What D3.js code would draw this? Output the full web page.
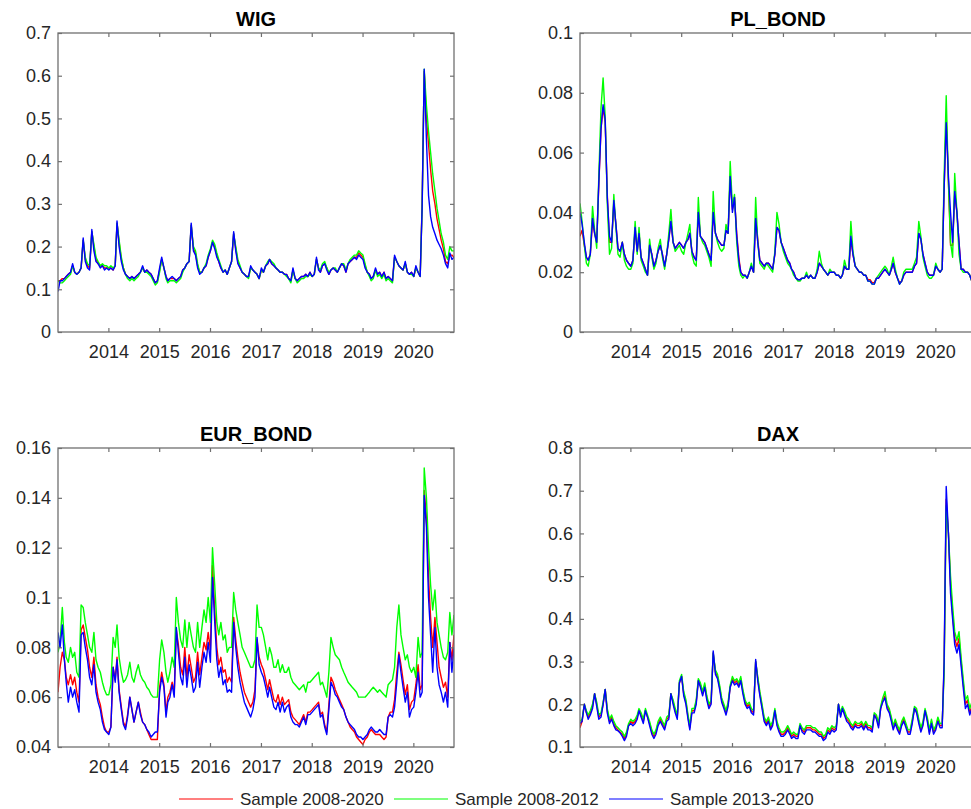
<!DOCTYPE html>
<html>
<head>
<meta charset="utf-8">
<script src="https://cdn.jsdelivr.net/npm/d3@7"></script>
<style>
  body { margin: 0; background: #fff; }
  svg { display: block; font-family: "Liberation Sans", Arial, sans-serif; }
  .axis text { fill: #262626; font-size: 18px; font-family: "Liberation Sans", Arial, sans-serif; }
  .axis line { stroke: #707070; stroke-width: 1.2; }
  .title { font-size: 20px; font-weight: bold; fill: #000; }
  .legend text { font-size: 17px; fill: #262626; }
</style>
</head>
<body>
<svg></svg>
<script>
const width = 971, height = 809;

// two observations per month, Jan 2013 - Oct 2020
const dates = d3.timeMonth.range(new Date(2013, 0, 1), new Date(2020, 10, 1))
  .flatMap(m => [d3.timeDay.offset(m, 3), d3.timeDay.offset(m, 18)]);

const seriesNames = ['Sample 2008-2020', 'Sample 2008-2012', 'Sample 2013-2020'];
const seriesColors = ['#ff0000', '#00ff00', '#0000ff'];
const xTicks = [2014, 2015, 2016, 2017, 2018, 2019, 2020];

// ---- WIG ----
const wigFull = [
  0.12,0.12,0.125,0.125,0.13,0.135,0.14,0.155,0.14,0.135,0.14,0.15, 0.215,0.17,0.155,0.15,0.235,0.2,0.17,0.16,0.155,0.155,0.15,0.15,
  0.15,0.15,0.145,0.155,0.255,0.21,0.17,0.15,0.135,0.13,0.125,0.13, 0.125,0.13,0.135,0.14,0.15,0.14,0.145,0.14,0.135,0.125,0.115,0.12,
  0.145,0.17,0.15,0.13,0.12,0.125,0.125,0.125,0.12,0.125,0.13,0.145, 0.15,0.16,0.165,0.25,0.195,0.185,0.155,0.14,0.14,0.15,0.155,0.175,
  0.19,0.21,0.2,0.18,0.165,0.15,0.14,0.145,0.135,0.15,0.165,0.23, 0.195,0.165,0.15,0.14,0.135,0.13,0.13,0.15,0.145,0.14,0.135,0.125,
  0.145,0.14,0.155,0.16,0.17,0.16,0.155,0.15,0.145,0.14,0.14,0.135, 0.135,0.125,0.12,0.145,0.125,0.12,0.125,0.13,0.13,0.135,0.13,0.14,
  0.13,0.135,0.17,0.15,0.14,0.155,0.16,0.15,0.135,0.145,0.15,0.145, 0.14,0.15,0.16,0.155,0.14,0.16,0.165,0.17,0.175,0.175,0.185,0.18,
  0.175,0.155,0.14,0.135,0.125,0.13,0.145,0.135,0.14,0.13,0.14,0.125, 0.13,0.125,0.12,0.175,0.165,0.155,0.15,0.145,0.16,0.14,0.135,0.14,
  0.13,0.15,0.14,0.13,0.3,0.61,0.5,0.44,0.38,0.33, 0.3,0.265,0.24,0.215,0.195,0.165,0.16,0.18,0.18,0.175
];
const wigEarly = [
  0.12,0.115,0.115,0.12,0.125,0.13,0.135,0.155,0.14,0.135,0.14,0.15, 0.215,0.175,0.16,0.155,0.235,0.205,0.175,0.165,0.155,0.16,0.155,0.155,
  0.15,0.155,0.15,0.155,0.255,0.215,0.175,0.15,0.135,0.125,0.12,0.125, 0.12,0.125,0.13,0.14,0.15,0.14,0.14,0.135,0.13,0.12,0.11,0.115,
  0.14,0.17,0.15,0.125,0.115,0.12,0.12,0.12,0.115,0.12,0.125,0.14, 0.15,0.16,0.165,0.25,0.2,0.19,0.16,0.14,0.14,0.15,0.16,0.18,
  0.195,0.215,0.205,0.185,0.17,0.155,0.14,0.145,0.135,0.15,0.165,0.23, 0.2,0.17,0.155,0.14,0.135,0.13,0.125,0.15,0.145,0.14,0.135,0.125,
  0.145,0.14,0.155,0.165,0.17,0.165,0.16,0.15,0.145,0.14,0.14,0.135, 0.13,0.125,0.115,0.145,0.125,0.115,0.12,0.125,0.125,0.13,0.13,0.135,
  0.13,0.135,0.17,0.15,0.145,0.16,0.165,0.15,0.14,0.145,0.15,0.15, 0.14,0.15,0.16,0.16,0.145,0.16,0.17,0.175,0.18,0.18,0.19,0.185,
  0.18,0.16,0.14,0.13,0.12,0.125,0.145,0.13,0.135,0.125,0.135,0.12, 0.125,0.12,0.115,0.175,0.165,0.155,0.15,0.145,0.16,0.14,0.135,0.135,
  0.13,0.15,0.14,0.13,0.29,0.615,0.53,0.47,0.42,0.37, 0.33,0.29,0.26,0.23,0.21,0.18,0.17,0.2,0.19,0.19
];
const wigLate = [
  0.095,0.12,0.12,0.125,0.13,0.135,0.14,0.16,0.14,0.135,0.14,0.15, 0.22,0.165,0.15,0.145,0.24,0.19,0.165,0.16,0.15,0.155,0.145,0.15,
  0.145,0.15,0.145,0.155,0.26,0.2,0.165,0.145,0.135,0.13,0.125,0.13, 0.125,0.13,0.135,0.14,0.155,0.14,0.145,0.14,0.135,0.125,0.115,0.12,
  0.15,0.175,0.15,0.13,0.12,0.125,0.13,0.125,0.12,0.125,0.13,0.145, 0.15,0.16,0.165,0.255,0.19,0.18,0.15,0.135,0.14,0.15,0.155,0.175,
  0.19,0.21,0.195,0.175,0.165,0.15,0.14,0.145,0.135,0.15,0.165,0.235, 0.19,0.16,0.15,0.14,0.135,0.13,0.13,0.155,0.145,0.14,0.135,0.125,
  0.15,0.14,0.155,0.16,0.17,0.16,0.155,0.15,0.145,0.14,0.14,0.135, 0.135,0.125,0.12,0.15,0.125,0.12,0.125,0.13,0.13,0.135,0.13,0.14,
  0.13,0.135,0.175,0.145,0.14,0.155,0.16,0.145,0.135,0.145,0.15,0.145, 0.14,0.15,0.16,0.155,0.14,0.16,0.165,0.17,0.175,0.17,0.18,0.175,
  0.17,0.15,0.14,0.135,0.125,0.13,0.15,0.135,0.14,0.13,0.14,0.125, 0.13,0.125,0.12,0.18,0.165,0.155,0.15,0.145,0.165,0.14,0.135,0.14,
  0.13,0.155,0.14,0.13,0.29,0.615,0.45,0.32,0.27,0.245, 0.23,0.215,0.205,0.195,0.18,0.16,0.15,0.185,0.17,0.175
];

// ---- PL_BOND ----
const plFull = [
  0.032,0.034,0.029,0.025,0.024,0.026,0.037,0.033,0.03,0.049,0.068,0.075, 0.07,0.046,0.03,0.03,0.043,0.036,0.028,0.027,0.03,0.026,0.024,0.023,
  0.022,0.024,0.034,0.027,0.033,0.025,0.023,0.021,0.019,0.029,0.026,0.022, 0.024,0.027,0.029,0.026,0.022,0.026,0.031,0.037,0.03,0.028,0.029,0.03,
  0.029,0.028,0.03,0.031,0.033,0.027,0.025,0.024,0.04,0.032,0.031,0.03, 0.028,0.026,0.024,0.04,0.033,0.031,0.03,0.029,0.029,0.034,0.033,0.052,
  0.041,0.045,0.033,0.025,0.02,0.019,0.019,0.018,0.02,0.022,0.02,0.038, 0.031,0.024,0.023,0.022,0.023,0.023,0.022,0.021,0.026,0.035,0.034,0.03,
  0.028,0.026,0.024,0.023,0.021,0.02,0.018,0.0175,0.0175,0.018,0.018,0.019, 0.018,0.019,0.018,0.018,0.02,0.023,0.022,0.021,0.02,0.019,0.02,0.02,
  0.02,0.019,0.019,0.018,0.019,0.022,0.021,0.021,0.031,0.026,0.022,0.021, 0.02,0.02,0.019,0.019,0.0175,0.0175,0.0165,0.0165,0.018,0.018,0.019,0.02,
  0.021,0.02,0.019,0.021,0.023,0.02,0.018,0.0165,0.017,0.019,0.02,0.02, 0.02,0.02,0.022,0.023,0.033,0.031,0.026,0.023,0.02,0.019,0.019,0.019,
  0.022,0.021,0.02,0.021,0.048,0.072,0.05,0.029,0.029,0.046, 0.04,0.03,0.021,0.021,0.02,0.02,0.019,0.017,0.018,0.016
];
const plEarly = [
  0.043,0.037,0.029,0.023,0.022,0.026,0.042,0.034,0.028,0.052,0.075,0.085, 0.072,0.043,0.026,0.028,0.046,0.035,0.026,0.025,0.03,0.024,0.022,0.021,
  0.021,0.023,0.037,0.026,0.035,0.024,0.022,0.02,0.019,0.031,0.025,0.021, 0.023,0.028,0.031,0.025,0.021,0.026,0.033,0.041,0.03,0.027,0.028,0.029,
  0.027,0.026,0.03,0.033,0.036,0.026,0.023,0.022,0.045,0.032,0.03,0.029, 0.027,0.025,0.022,0.047,0.033,0.03,0.028,0.027,0.028,0.036,0.033,0.057,
  0.042,0.046,0.03,0.022,0.019,0.018,0.019,0.018,0.02,0.023,0.02,0.045, 0.03,0.023,0.022,0.021,0.023,0.022,0.021,0.02,0.027,0.04,0.036,0.03,
  0.027,0.025,0.023,0.022,0.021,0.019,0.018,0.017,0.017,0.018,0.018,0.02, 0.018,0.019,0.018,0.018,0.021,0.027,0.023,0.021,0.02,0.019,0.021,0.02,
  0.02,0.019,0.019,0.018,0.019,0.024,0.021,0.021,0.037,0.027,0.022,0.021, 0.02,0.02,0.019,0.019,0.017,0.017,0.016,0.016,0.018,0.019,0.02,0.021,
  0.022,0.021,0.019,0.022,0.025,0.021,0.018,0.016,0.017,0.02,0.021,0.021, 0.021,0.021,0.023,0.025,0.037,0.032,0.025,0.022,0.019,0.018,0.018,0.019,
  0.023,0.021,0.02,0.021,0.052,0.079,0.05,0.03,0.025,0.053, 0.04,0.026,0.021,0.02,0.02,0.02,0.019,0.017,0.018,0.017
];
const plLate = [
  0.04,0.036,0.03,0.025,0.024,0.026,0.038,0.033,0.03,0.05,0.068,0.076, 0.071,0.045,0.032,0.03,0.044,0.036,0.028,0.027,0.03,0.026,0.024,0.023,
  0.022,0.024,0.035,0.027,0.033,0.025,0.023,0.021,0.019,0.029,0.026,0.022, 0.024,0.027,0.029,0.026,0.022,0.026,0.031,0.037,0.03,0.028,0.029,0.03,
  0.029,0.028,0.03,0.031,0.033,0.027,0.025,0.024,0.04,0.032,0.031,0.03, 0.028,0.026,0.024,0.04,0.033,0.031,0.03,0.029,0.029,0.034,0.033,0.052,
  0.04,0.045,0.032,0.024,0.02,0.019,0.019,0.018,0.02,0.022,0.02,0.038, 0.03,0.024,0.023,0.022,0.023,0.023,0.022,0.021,0.026,0.035,0.034,0.03,
  0.028,0.026,0.024,0.023,0.021,0.02,0.018,0.0175,0.0175,0.018,0.018,0.019, 0.018,0.019,0.018,0.018,0.02,0.023,0.022,0.021,0.02,0.019,0.02,0.02,
  0.02,0.019,0.019,0.018,0.019,0.022,0.021,0.021,0.032,0.026,0.022,0.021, 0.02,0.02,0.019,0.019,0.017,0.017,0.016,0.016,0.018,0.018,0.019,0.02,
  0.021,0.02,0.019,0.021,0.023,0.02,0.018,0.016,0.017,0.019,0.02,0.02, 0.02,0.02,0.022,0.023,0.033,0.031,0.026,0.023,0.02,0.019,0.019,0.019,
  0.022,0.021,0.02,0.021,0.048,0.07,0.052,0.04,0.03,0.047, 0.04,0.03,0.021,0.021,0.02,0.02,0.019,0.017,0.018,0.016
];

// ---- EUR_BOND ----
const eurFull = [
  0.062,0.072,0.078,0.075,0.068,0.065,0.069,0.065,0.068,0.062,0.058,0.087, 0.089,0.084,0.079,0.072,0.068,0.076,0.065,0.06,0.057,0.052,0.048,0.046,
  0.046,0.048,0.072,0.067,0.076,0.063,0.056,0.05,0.048,0.053,0.06,0.055, 0.05,0.054,0.058,0.054,0.05,0.049,0.047,0.045,0.043,0.043,0.043,0.043,
  0.064,0.07,0.065,0.054,0.06,0.062,0.066,0.062,0.087,0.081,0.072,0.069, 0.08,0.068,0.077,0.072,0.066,0.068,0.078,0.069,0.076,0.082,0.079,0.086,
  0.079,0.113,0.095,0.08,0.073,0.076,0.07,0.071,0.066,0.068,0.066,0.092, 0.083,0.076,0.07,0.066,0.062,0.06,0.058,0.056,0.058,0.063,0.083,0.076,
  0.073,0.071,0.067,0.063,0.067,0.063,0.059,0.058,0.061,0.057,0.06,0.057, 0.058,0.059,0.054,0.052,0.051,0.05,0.049,0.051,0.053,0.05,0.054,0.054,
  0.055,0.056,0.057,0.058,0.053,0.054,0.049,0.046,0.057,0.068,0.066,0.063, 0.061,0.059,0.057,0.055,0.052,0.05,0.048,0.047,0.046,0.044,0.043,0.042,
  0.041,0.043,0.044,0.046,0.047,0.046,0.045,0.045,0.045,0.044,0.043,0.044, 0.052,0.054,0.054,0.059,0.07,0.078,0.073,0.067,0.061,0.065,0.055,0.058,
  0.059,0.065,0.073,0.063,0.065,0.143,0.132,0.108,0.092,0.08, 0.092,0.082,0.072,0.068,0.064,0.066,0.06,0.082,0.075,0.085
];
const eurEarly = [
  0.078,0.082,0.096,0.082,0.076,0.074,0.08,0.076,0.078,0.07,0.068,0.097, 0.096,0.09,0.085,0.08,0.078,0.086,0.075,0.072,0.07,0.066,0.063,0.061,
  0.061,0.065,0.084,0.08,0.089,0.076,0.07,0.066,0.067,0.069,0.074,0.068, 0.066,0.07,0.073,0.069,0.067,0.066,0.064,0.063,0.061,0.06,0.06,0.06,
  0.075,0.083,0.078,0.07,0.066,0.07,0.076,0.072,0.1,0.09,0.083,0.08, 0.091,0.08,0.09,0.085,0.08,0.078,0.09,0.08,0.088,0.095,0.09,0.1,
  0.09,0.12,0.105,0.09,0.085,0.09,0.083,0.085,0.078,0.08,0.08,0.102, 0.095,0.09,0.085,0.08,0.078,0.076,0.074,0.072,0.072,0.075,0.097,0.088,
  0.088,0.085,0.08,0.075,0.08,0.077,0.072,0.072,0.075,0.07,0.073,0.07, 0.07,0.072,0.068,0.066,0.065,0.064,0.063,0.064,0.065,0.062,0.066,0.066,
  0.067,0.068,0.069,0.07,0.065,0.066,0.063,0.06,0.07,0.084,0.08,0.077, 0.076,0.075,0.072,0.07,0.068,0.066,0.065,0.064,0.063,0.062,0.06,0.06,
  0.06,0.06,0.061,0.062,0.063,0.064,0.063,0.062,0.063,0.062,0.061,0.06, 0.065,0.066,0.067,0.072,0.088,0.097,0.085,0.08,0.075,0.077,0.072,0.07,
  0.072,0.068,0.084,0.076,0.078,0.152,0.14,0.12,0.105,0.095, 0.103,0.09,0.085,0.08,0.076,0.075,0.078,0.094,0.085,0.093
];
const eurLate = [
  0.086,0.08,0.089,0.075,0.066,0.058,0.064,0.06,0.063,0.058,0.054,0.085, 0.086,0.08,0.075,0.068,0.065,0.073,0.062,0.058,0.055,0.05,0.047,0.046,
  0.045,0.048,0.072,0.066,0.075,0.062,0.055,0.049,0.047,0.052,0.06,0.055, 0.05,0.054,0.058,0.053,0.05,0.049,0.047,0.046,0.044,0.045,0.046,0.046,
  0.062,0.068,0.064,0.052,0.058,0.06,0.065,0.06,0.088,0.078,0.068,0.065, 0.076,0.064,0.073,0.068,0.062,0.064,0.074,0.064,0.072,0.078,0.074,0.082,
  0.074,0.108,0.09,0.075,0.068,0.072,0.065,0.067,0.062,0.063,0.062,0.09, 0.08,0.072,0.066,0.062,0.058,0.056,0.054,0.052,0.055,0.06,0.084,0.073,
  0.07,0.068,0.064,0.06,0.064,0.06,0.056,0.055,0.058,0.054,0.058,0.054, 0.056,0.057,0.052,0.05,0.049,0.049,0.048,0.05,0.052,0.049,0.053,0.053,
  0.054,0.055,0.056,0.057,0.052,0.053,0.048,0.045,0.055,0.066,0.064,0.061, 0.06,0.058,0.056,0.055,0.052,0.05,0.049,0.048,0.047,0.045,0.044,0.044,
  0.043,0.044,0.045,0.047,0.048,0.047,0.046,0.046,0.047,0.046,0.045,0.045, 0.052,0.053,0.052,0.056,0.066,0.077,0.07,0.064,0.058,0.062,0.052,0.055,
  0.056,0.062,0.07,0.06,0.062,0.141,0.128,0.1,0.085,0.07, 0.088,0.072,0.065,0.062,0.058,0.062,0.056,0.082,0.07,0.08
];

// ---- DAX ----
const daxFull = [
  0.145,0.16,0.2,0.18,0.17,0.18,0.195,0.225,0.2,0.17,0.175,0.2, 0.235,0.185,0.16,0.17,0.155,0.145,0.14,0.135,0.13,0.12,0.13,0.15,
  0.16,0.155,0.16,0.17,0.185,0.175,0.16,0.185,0.17,0.155,0.135,0.125, 0.135,0.155,0.165,0.155,0.145,0.165,0.17,0.225,0.205,0.185,0.17,0.25,
  0.265,0.225,0.205,0.17,0.145,0.185,0.185,0.205,0.255,0.245,0.225,0.245, 0.215,0.195,0.205,0.32,0.275,0.265,0.24,0.21,0.195,0.18,0.2,0.24,
  0.26,0.25,0.255,0.245,0.26,0.23,0.205,0.195,0.2,0.185,0.18,0.3, 0.26,0.225,0.195,0.165,0.155,0.165,0.145,0.155,0.185,0.155,0.14,0.13,
  0.13,0.135,0.145,0.135,0.125,0.13,0.125,0.125,0.15,0.14,0.135,0.145, 0.145,0.145,0.14,0.14,0.135,0.13,0.13,0.12,0.125,0.14,0.135,0.145,
  0.14,0.145,0.2,0.175,0.19,0.18,0.165,0.16,0.15,0.145,0.155,0.15, 0.15,0.155,0.145,0.155,0.145,0.145,0.14,0.175,0.17,0.15,0.19,0.21,
  0.22,0.195,0.185,0.165,0.145,0.16,0.145,0.135,0.155,0.165,0.15,0.135, 0.135,0.16,0.19,0.185,0.16,0.14,0.155,0.185,0.165,0.135,0.16,0.135,
  0.145,0.165,0.15,0.15,0.29,0.68,0.6,0.48,0.41,0.355, 0.335,0.355,0.3,0.25,0.2,0.21,0.18,0.195,0.19,0.205
];
const daxEarly = [
  0.16,0.165,0.2,0.185,0.175,0.185,0.2,0.225,0.205,0.175,0.18,0.205, 0.235,0.19,0.165,0.175,0.16,0.15,0.145,0.14,0.135,0.125,0.135,0.155,
  0.165,0.16,0.165,0.175,0.19,0.18,0.165,0.19,0.175,0.16,0.14,0.13, 0.14,0.16,0.17,0.16,0.15,0.17,0.175,0.225,0.21,0.19,0.175,0.255,
  0.27,0.23,0.21,0.175,0.15,0.19,0.19,0.21,0.26,0.25,0.23,0.25, 0.22,0.2,0.21,0.32,0.28,0.27,0.245,0.215,0.2,0.185,0.205,0.245,
  0.265,0.255,0.26,0.25,0.265,0.235,0.21,0.2,0.205,0.19,0.185,0.3, 0.265,0.23,0.2,0.17,0.16,0.17,0.15,0.16,0.19,0.16,0.145,0.135,
  0.135,0.14,0.15,0.14,0.13,0.135,0.13,0.13,0.155,0.145,0.14,0.15, 0.15,0.15,0.145,0.145,0.14,0.135,0.135,0.125,0.13,0.145,0.14,0.15,
  0.145,0.15,0.2,0.18,0.195,0.185,0.17,0.165,0.155,0.15,0.16,0.155, 0.155,0.16,0.15,0.16,0.15,0.15,0.145,0.18,0.175,0.155,0.195,0.215,
  0.23,0.2,0.19,0.17,0.15,0.165,0.15,0.14,0.16,0.17,0.155,0.14, 0.14,0.165,0.195,0.19,0.165,0.145,0.16,0.19,0.17,0.14,0.165,0.14,
  0.15,0.17,0.155,0.155,0.27,0.665,0.6,0.5,0.43,0.37, 0.35,0.37,0.31,0.26,0.21,0.22,0.19,0.205,0.2,0.215
];
const daxLate = [
  0.155,0.16,0.2,0.18,0.165,0.175,0.19,0.225,0.195,0.165,0.17,0.2, 0.235,0.18,0.155,0.165,0.15,0.14,0.138,0.133,0.125,0.115,0.125,0.15,
  0.155,0.15,0.155,0.165,0.185,0.17,0.155,0.185,0.17,0.15,0.13,0.12, 0.13,0.15,0.16,0.15,0.14,0.16,0.165,0.225,0.2,0.18,0.165,0.25,
  0.265,0.22,0.2,0.165,0.14,0.18,0.18,0.2,0.255,0.24,0.22,0.24, 0.21,0.19,0.2,0.325,0.27,0.26,0.235,0.205,0.19,0.175,0.195,0.24,
  0.255,0.245,0.25,0.24,0.255,0.225,0.2,0.19,0.195,0.18,0.175,0.305, 0.255,0.22,0.19,0.16,0.15,0.16,0.14,0.15,0.185,0.15,0.135,0.125,
  0.125,0.13,0.14,0.13,0.12,0.125,0.12,0.12,0.15,0.135,0.13,0.14, 0.14,0.14,0.135,0.135,0.13,0.125,0.125,0.115,0.12,0.135,0.13,0.14,
  0.135,0.14,0.2,0.17,0.19,0.175,0.16,0.155,0.145,0.14,0.15,0.145, 0.145,0.15,0.14,0.15,0.14,0.14,0.135,0.175,0.165,0.145,0.19,0.205,
  0.215,0.19,0.18,0.16,0.14,0.155,0.14,0.13,0.15,0.16,0.145,0.13, 0.13,0.155,0.19,0.18,0.155,0.135,0.15,0.185,0.16,0.13,0.155,0.13,
  0.14,0.16,0.145,0.145,0.3,0.71,0.6,0.46,0.4,0.34, 0.32,0.34,0.29,0.24,0.19,0.2,0.175,0.19,0.185,0.2
];

const wigTicks = [0, 0.1, 0.2, 0.3, 0.4, 0.5, 0.6, 0.7];
const plTicks = [0, 0.02, 0.04, 0.06, 0.08, 0.1];
const eurTicks = [0.04, 0.06, 0.08, 0.1, 0.12, 0.14, 0.16];
const daxTicks = [0.1, 0.2, 0.3, 0.4, 0.5, 0.6, 0.7, 0.8];

const panels = [
  { title: 'WIG', series: [wigFull, wigEarly, wigLate], yDomain: [0, 0.7], yTicks: wigTicks, left: 58, top: 33 },
  { title: 'PL_BOND', series: [plFull, plEarly, plLate], yDomain: [0, 0.1], yTicks: plTicks, left: 580, top: 33 },
  { title: 'EUR_BOND', series: [eurFull, eurEarly, eurLate], yDomain: [0.04, 0.16], yTicks: eurTicks, left: 58, top: 448 },
  { title: 'DAX', series: [daxFull, daxEarly, daxLate], yDomain: [0.1, 0.8], yTicks: daxTicks, left: 580, top: 448 }
];

const plotW = 396, plotH = 299;
const svg = d3.select('svg').attr('width', width).attr('height', height);
const xTickDates = xTicks.map(yr => new Date(yr, 0, 1));

panels.forEach((p, pi) => {
  const g = svg.append('g').attr('transform', `translate(${p.left},${p.top})`);
  const x = d3.scaleTime().domain(d3.extent(dates)).range([0, plotW]);
  const y = d3.scaleLinear().domain(p.yDomain).range([plotH, 0]);

  const clipId = 'clip' + pi;
  g.append('clipPath').attr('id', clipId)
    .append('rect').attr('width', plotW).attr('height', plotH);

  const line = d3.line()
    .defined((d, i) => i < dates.length)
    .x((d, i) => x(dates[i]))
    .y(d => y(d));

  g.append('g').attr('clip-path', `url(#${clipId})`)
    .selectAll('path')
    .data(p.series)
    .join('path')
    .attr('d', line)
    .attr('fill', 'none')
    .attr('stroke', (d, i) => seriesColors[i])
    .attr('stroke-width', 1.4)
    .attr('stroke-linejoin', 'round');

  // axes, ticks pointing inward on all four sides
  g.append('g').attr('class', 'axis').attr('transform', `translate(0,${plotH})`)
    .call(d3.axisBottom(x).tickValues(xTickDates).tickFormat(d3.timeFormat('%Y'))
      .tickSizeInner(-4).tickSizeOuter(0).tickPadding(13));
  g.append('g').attr('class', 'axis')
    .call(d3.axisTop(x).tickValues(xTickDates).tickFormat('')
      .tickSizeInner(-4).tickSizeOuter(0));
  g.append('g').attr('class', 'axis')
    .call(d3.axisLeft(y).tickValues(p.yTicks).tickFormat(d3.format('~g'))
      .tickSizeInner(-4).tickSizeOuter(0).tickPadding(7));
  g.append('g').attr('class', 'axis').attr('transform', `translate(${plotW},0)`)
    .call(d3.axisRight(y).tickValues(p.yTicks).tickFormat('')
      .tickSizeInner(-4).tickSizeOuter(0));
  g.selectAll('.axis .domain').remove();

  g.append('rect')
    .attr('width', plotW).attr('height', plotH)
    .attr('fill', 'none')
    .attr('stroke', '#707070')
    .attr('stroke-width', 1.3);

  g.append('text')
    .attr('class', 'title')
    .attr('x', plotW / 2)
    .attr('y', -7)
    .attr('text-anchor', 'middle')
    .text(p.title);
});

// legend
const legend = svg.append('g').attr('class', 'legend').attr('transform', 'translate(179,799)');
seriesNames.forEach((name, i) => {
  const item = legend.append('g').attr('transform', `translate(${i * 215},0)`);
  item.append('line')
    .attr('x1', 0).attr('x2', 54)
    .attr('stroke', seriesColors[i])
    .attr('stroke-width', 1.2);
  item.append('text')
    .attr('x', 61)
    .attr('y', 6)
    .text(name);
});
</script>
</body>
</html>
